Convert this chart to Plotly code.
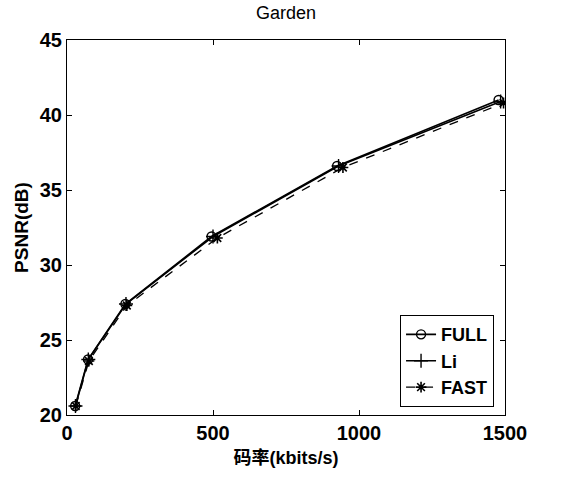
import plotly.graph_objects as go

# Rate-distortion results for the Garden sequence
rate_full = [28, 72, 200, 495, 925, 1478]
psnr_full = [20.6, 23.7, 27.4, 31.9, 36.6, 41.0]

rate_li = [29, 73, 202, 500, 930, 1485]
psnr_li = [20.6, 23.7, 27.4, 31.9, 36.6, 40.9]

rate_fast = [30, 75, 205, 515, 945, 1495]
psnr_fast = [20.6, 23.6, 27.3, 31.8, 36.5, 40.8]

x_ticks = [0, 500, 1000, 1500]
y_ticks = [20, 25, 30, 35, 40, 45]

FONT = "Liberation Sans, Arial, Noto Sans CJK SC, sans-serif"

fig = go.Figure()
fig.add_trace(go.Scatter(
    x=rate_full, y=psnr_full, name="<b>FULL</b>", mode="lines+markers",
    line=dict(color="black", width=1.6),
    marker=dict(symbol="circle-open", size=9, color="black", line=dict(width=1.4)),
))
fig.add_trace(go.Scatter(
    x=rate_li, y=psnr_li, name="<b>Li</b>", mode="lines+markers",
    line=dict(color="black", width=1.6),
    marker=dict(symbol="cross-thin-open", size=10, color="black", line=dict(width=1.4)),
))
fig.add_trace(go.Scatter(
    x=rate_fast, y=psnr_fast, name="<b>FAST</b>", mode="lines+markers",
    line=dict(color="black", width=1.3, dash="dash"),
    marker=dict(symbol="asterisk-open", size=9, color="black", line=dict(width=1.6)),
))

axis_common = dict(
    showgrid=False, zeroline=False, showline=True, linecolor="black", linewidth=1,
    mirror="ticks", ticks="inside", ticklen=5, tickcolor="black",
    tickfont=dict(family=FONT, size=20, color="black", weight="bold"),
)

fig.update_layout(
    width=566, height=477,
    margin=dict(l=67, r=61, t=40, b=60),
    paper_bgcolor="white", plot_bgcolor="white",
    font=dict(family=FONT, color="black"),
    title=dict(text="Garden", x=(67 + 505) / 2 / 566, xanchor="center",
               y=1 - 13 / 477, yanchor="middle",
               font=dict(family=FONT, size=18, color="black")),
    xaxis=dict(range=[0, 1500], tickvals=x_ticks,
               title=dict(text="<b>码率(kbits/s)</b>", standoff=8,
                          font=dict(family=FONT, size=18, color="black")),
               **axis_common),
    yaxis=dict(range=[20, 45], tickvals=y_ticks,
               title=dict(text="<b>PSNR(dB)</b>", standoff=6,
                          font=dict(family=FONT, size=19, color="black")),
               **axis_common),
    legend=dict(x=0.975, y=0.021, xanchor="right", yanchor="bottom",
                bgcolor="white", bordercolor="black", borderwidth=1,
                font=dict(family=FONT, size=18, color="black"),
                tracegroupgap=0, itemwidth=30),
    showlegend=True,
)

fig.write_html("out.html")
